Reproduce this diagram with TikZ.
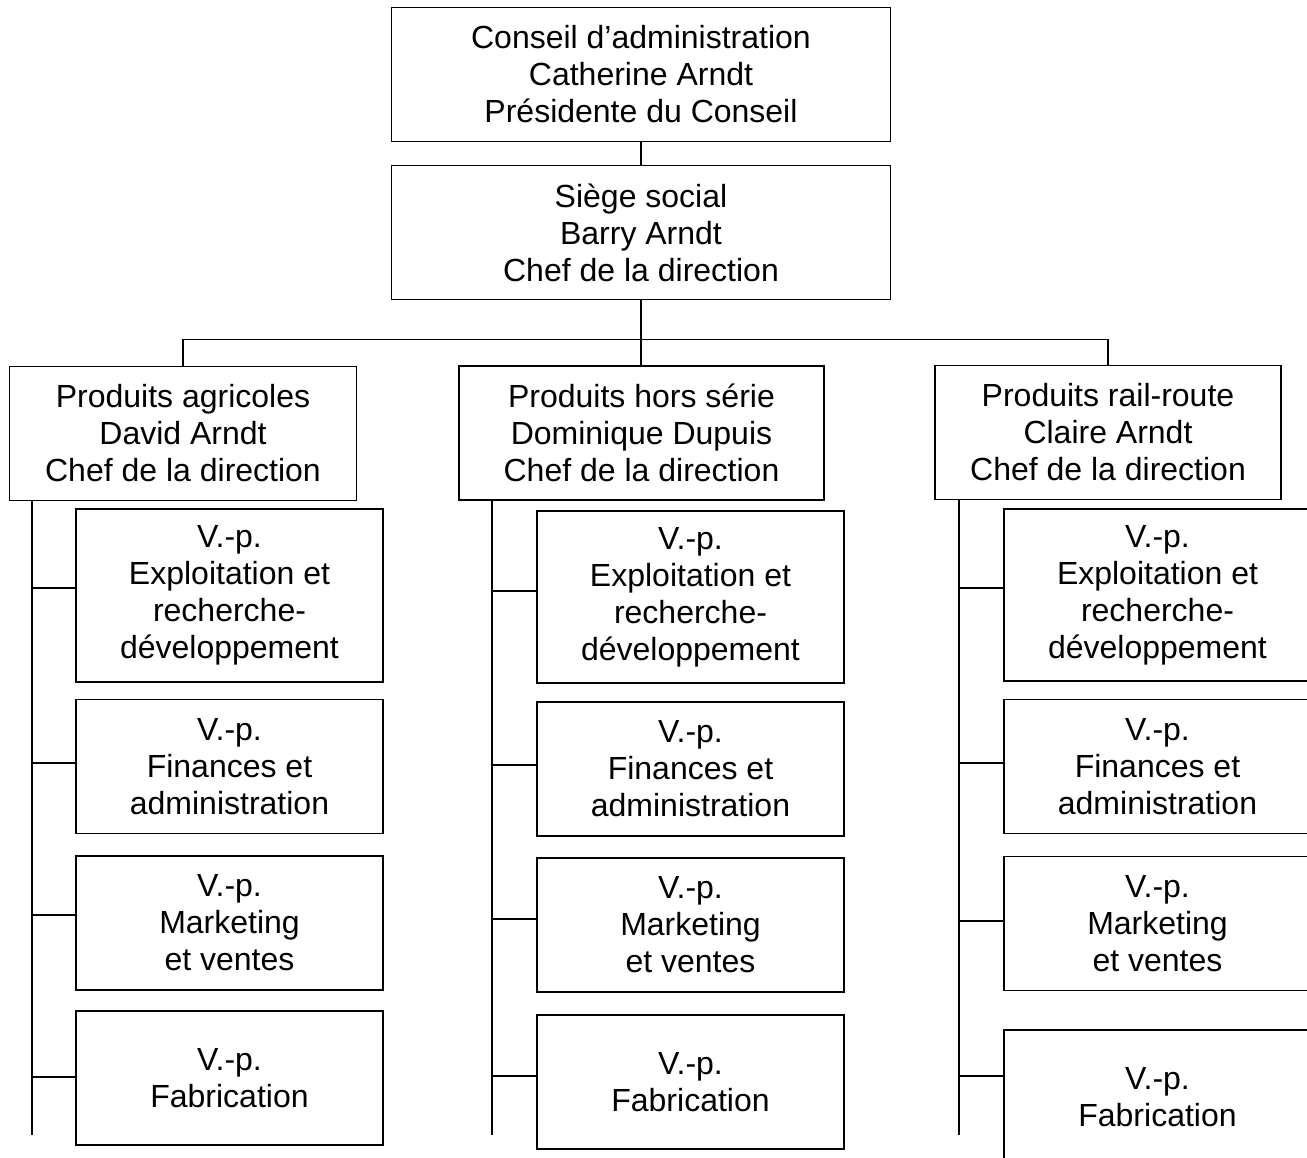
\documentclass[tikz,border=0pt]{standalone}
\usepackage{fontspec}
\setmainfont{Liberation Sans}

\tikzset{
	unitbox/.style = {draw, line width = 1.8pt, inner sep = 0pt, align = center,
		font = \fontsize{32}{37}\selectfont},
	headbox/.style = {unitbox, minimum width = 499pt, minimum height = 134pt},
	vpbox/.style = {unitbox, minimum width = 307pt, minimum height = 134pt},
	link/.style = {line width = 1.8pt}
}

\begin{document}
\begin{tikzpicture}[x = 1pt, y = -1pt]

	\useasboundingbox (0, 0) rectangle (1307, 1158);

	% Board and head office

	\node [headbox] (conseil) at (641, 74.5) {Conseil d’administration\\Catherine Arndt\\Présidente du Conseil};
	\node [headbox] (siege) at (641, 232.5) {Siège social\\Barry Arndt\\Chef de la direction};

	% Divisions

	\node [unitbox, minimum width = 347pt, minimum height = 134pt] (agri) at (183, 433.5) {Produits agricoles\\David Arndt\\Chef de la direction};
	\node [unitbox, minimum width = 365pt, minimum height = 134pt] (hors) at (641.5, 433) {Produits hors série\\Dominique Dupuis\\Chef de la direction};
	\node [unitbox, minimum width = 346pt, minimum height = 134pt] (rail) at (1108, 432.5) {Produits rail-route\\Claire Arndt\\Chef de la direction};

	% Vice-presidents, one column per division

	\node [vpbox, minimum height = 173pt] (agriA) at (229.5, 595.5) {V.-p.\\Exploitation et\\recherche-\\développement};
	\node [vpbox] (agriB) at (229.5, 766.5) {V.-p.\\Finances et\\administration};
	\node [vpbox] (agriC) at (229.5, 923) {V.-p.\\Marketing\\et ventes};
	\node [vpbox] (agriD) at (229.5, 1078) {V.-p.\\Fabrication};

	\node [vpbox, minimum height = 172pt] (horsA) at (690.5, 597) {V.-p.\\Exploitation et\\recherche-\\développement};
	\node [vpbox] (horsB) at (690.5, 769) {V.-p.\\Finances et\\administration};
	\node [vpbox] (horsC) at (690.5, 925) {V.-p.\\Marketing\\et ventes};
	\node [vpbox] (horsD) at (690.5, 1082) {V.-p.\\Fabrication};

	\node [vpbox, minimum height = 172pt] (railA) at (1157.5, 595) {V.-p.\\Exploitation et\\recherche-\\développement};
	\node [vpbox] (railB) at (1157.5, 766.5) {V.-p.\\Finances et\\administration};
	\node [vpbox] (railC) at (1157.5, 923.5) {V.-p.\\Marketing\\et ventes};
	\node [vpbox] (railD) at (1157.5, 1097) {V.-p.\\Fabrication};

	% Connectors

	\begin{scope}[link]

		\draw (conseil) -- (siege);
		\draw (siege.south) -- (siege.south |- hors.north);
		\draw (agri.north) -- ++(0, -26) -| (rail.north);

		\coordinate (agriEnd) at (32, 1135);
		\coordinate (horsEnd) at (492, 1135);
		\coordinate (railEnd) at (959, 1135);

		\draw (agriEnd |- agri.south) -- (agriEnd);
		\draw (horsEnd |- hors.south) -- (horsEnd);
		\draw (railEnd |- rail.south) -- (railEnd);

		\draw ([yshift = 7.5pt] agriA.west) coordinate (tick) -- (agriEnd |- tick);
		\draw ([yshift = 3.5pt] agriB.west) coordinate (tick) -- (agriEnd |- tick);
		\draw ([yshift = 8pt] agriC.west) coordinate (tick) -- (agriEnd |- tick);
		\draw ([yshift = 1pt] agriD.west) coordinate (tick) -- (agriEnd |- tick);

		\draw ([yshift = 6pt] horsA.west) coordinate (tick) -- (horsEnd |- tick);
		\draw ([yshift = 4pt] horsB.west) coordinate (tick) -- (horsEnd |- tick);
		\draw ([yshift = 6pt] horsC.west) coordinate (tick) -- (horsEnd |- tick);
		\draw ([yshift = 6pt] horsD.west) coordinate (tick) -- (horsEnd |- tick);

		\draw ([yshift = 7pt] railA.west) coordinate (tick) -- (railEnd |- tick);
		\draw ([yshift = 3.5pt] railB.west) coordinate (tick) -- (railEnd |- tick);
		\draw ([yshift = 2.5pt] railC.west) coordinate (tick) -- (railEnd |- tick);
		\draw ([yshift = 21pt] railD.west) coordinate (tick) -- (railEnd |- tick);

	\end{scope}

\end{tikzpicture}
\end{document}
